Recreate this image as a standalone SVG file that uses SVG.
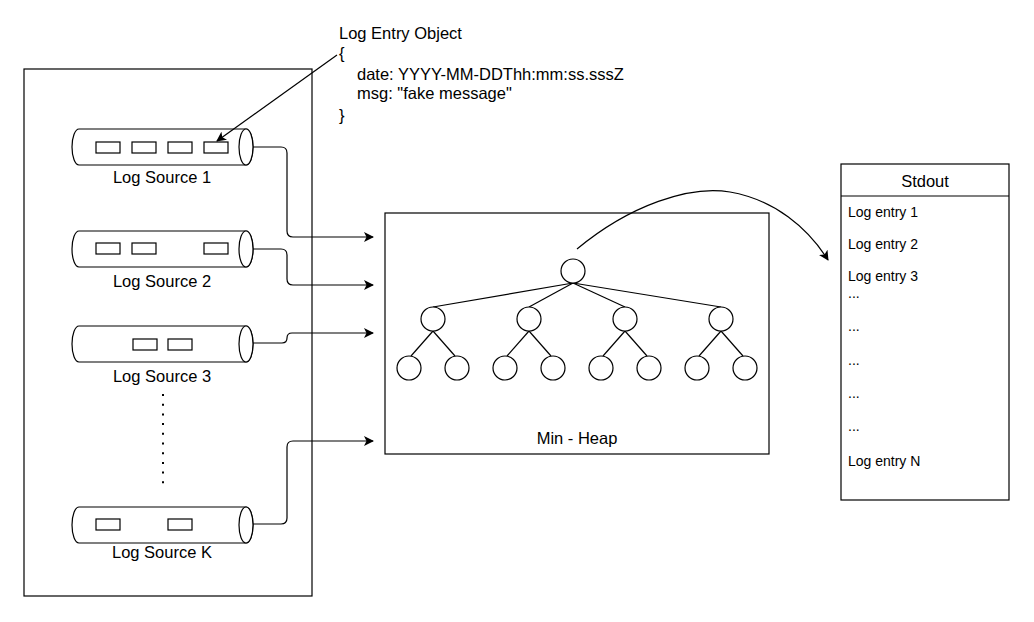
<svg xmlns="http://www.w3.org/2000/svg" width="1034" height="622" viewBox="0 0 1034 622">
<style>
.s{fill:none;stroke:#000;stroke-width:1.2}
.w{fill:#fff;stroke:#000;stroke-width:1.2}
.t{font-family:"Liberation Sans",Arial,sans-serif;font-size:16.5px;fill:#000}
.e{font-family:"Liberation Sans",Arial,sans-serif;font-size:14px;fill:#000}
.c{text-anchor:middle}
</style>
<defs>
<marker id="arr" viewBox="0 0 10 10" refX="9" refY="5" markerWidth="10" markerHeight="10" markerUnits="userSpaceOnUse" orient="auto">
<path d="M0,0 L10,5 L0,10 L2.5,5 Z" fill="#000"/>
</marker>
<g id="cyl">
<path class="w" d="M79,0 H246 A7,18 0 0 1 246,36 H79 A7,18 0 0 1 79,0 Z"/>
<ellipse class="w" cx="246" cy="18" rx="7" ry="18"/>
</g>
</defs>
<rect width="1034" height="622" fill="#fff"/>
<g id="sources-box"><rect class="s" x="24" y="69" width="288" height="527"/></g>
<g id="log-source-1">
<use href="#cyl" y="129"/>
<rect class="w" x="96" y="142" width="24" height="11"/>
<rect class="w" x="132" y="142" width="24" height="11"/>
<rect class="w" x="168" y="142" width="24" height="11"/>
<rect class="w" x="204" y="142" width="24" height="11"/>
<text class="t c" x="162" y="183">Log Source 1</text>
</g>
<g id="log-source-2">
<use href="#cyl" y="231"/>
<rect class="w" x="96" y="243" width="24" height="11"/>
<rect class="w" x="132" y="243" width="24" height="11"/>
<rect class="w" x="204" y="243" width="24" height="11"/>
<text class="t c" x="162" y="287">Log Source 2</text>
</g>
<g id="log-source-3">
<use href="#cyl" y="326"/>
<rect class="w" x="133" y="339" width="24" height="11"/>
<rect class="w" x="168" y="339" width="24" height="11"/>
<text class="t c" x="162" y="382">Log Source 3</text>
</g>
<g id="ellipsis"><line x1="163" y1="394" x2="163" y2="486" stroke="#000" stroke-width="2" stroke-dasharray="2 7.7"/></g>
<g id="log-source-k">
<use href="#cyl" y="507"/>
<rect class="w" x="96" y="519" width="24" height="11"/>
<rect class="w" x="168" y="519" width="24" height="11"/>
<text class="t c" x="162" y="558">Log Source K</text>
</g>
<g id="log-entry-object">
<text class="t" x="339" y="39">Log Entry Object</text>
<text class="t" x="339" y="59">{</text>
<text class="t" x="357" y="80">date: YYYY-MM-DDThh:mm:ss.sssZ</text>
<text class="t" x="357" y="99">msg: "fake message"</text>
<text class="t" x="339" y="121">}</text>
</g>
<g id="min-heap">
<rect class="s" x="385" y="213" width="384" height="241"/>
<g class="s">
<line x1="573" y1="283" x2="433" y2="307"/>
<line x1="573" y1="283" x2="529" y2="307"/>
<line x1="573" y1="283" x2="625" y2="307"/>
<line x1="573" y1="283" x2="721" y2="307"/>
<line x1="433" y1="331" x2="411" y2="356"/>
<line x1="433" y1="331" x2="455" y2="356"/>
<line x1="529" y1="331" x2="507" y2="356"/>
<line x1="529" y1="331" x2="551" y2="356"/>
<line x1="625" y1="331" x2="603" y2="356"/>
<line x1="625" y1="331" x2="647" y2="356"/>
<line x1="721" y1="331" x2="699" y2="356"/>
<line x1="721" y1="331" x2="743" y2="356"/>
</g>
<circle class="w" cx="573" cy="271" r="12"/>
<circle class="w" cx="433" cy="319" r="12"/>
<circle class="w" cx="529" cy="319" r="12"/>
<circle class="w" cx="625" cy="319" r="12"/>
<circle class="w" cx="721" cy="319" r="12"/>
<circle class="w" cx="409" cy="368" r="12"/>
<circle class="w" cx="457" cy="368" r="12"/>
<circle class="w" cx="505" cy="368" r="12"/>
<circle class="w" cx="553" cy="368" r="12"/>
<circle class="w" cx="601" cy="368" r="12"/>
<circle class="w" cx="649" cy="368" r="12"/>
<circle class="w" cx="697" cy="368" r="12"/>
<circle class="w" cx="745" cy="368" r="12"/>
<text class="t c" x="577" y="444">Min - Heap</text>
</g>
<g id="stdout">
<rect class="s" x="841" y="164" width="168" height="336"/>
<line class="s" x1="841" y1="196" x2="1009" y2="196"/>
<text class="t c" x="925" y="187">Stdout</text>
<text class="e" x="848" y="217">Log entry 1</text>
<text class="e" x="848" y="249">Log entry 2</text>
<text class="e" x="848" y="281">Log entry 3</text>
<text class="e" x="848" y="298">...</text>
<text class="e" x="848" y="331">...</text>
<text class="e" x="848" y="365">...</text>
<text class="e" x="848" y="398">...</text>
<text class="e" x="848" y="431">...</text>
<text class="e" x="848" y="466">Log entry N</text>
</g>
<g id="connectors" class="s" marker-end="url(#arr)">
<path d="M337,55 L217,141"/>
<path d="M253,147 H281 Q287,147 287,153 V231 Q287,237 293,237 H373"/>
<path d="M253,249 H281 Q287,249 287,255 V279 Q287,285 293,285 H373"/>
<path d="M253,343 H282 Q287,343 287,338 Q287,333 292,333 H373"/>
<path d="M253,524 H281 Q287,524 287,518 V447 Q287,441 293,441 H373"/>
<path d="M577,249 C630,205 690,185 730,192 C775,200 808,228 828,260"/>
</g>
</svg>
